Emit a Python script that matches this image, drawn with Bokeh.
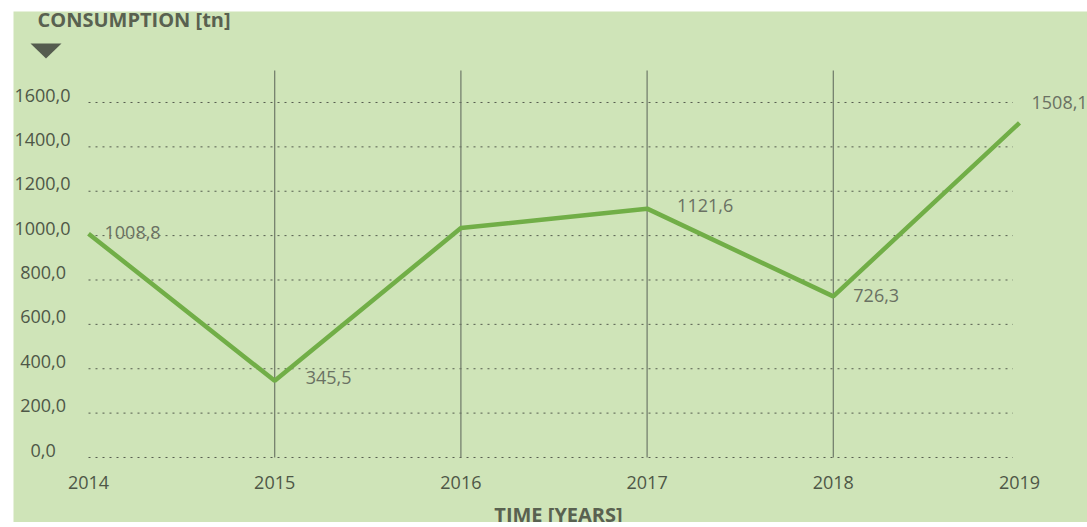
from bokeh.plotting import figure
from bokeh.models import Range1d, FixedTicker, Label, PolyAnnotation, ColumnDataSource
from bokeh.core.properties import value
from bokeh.embed import file_html
from bokeh.resources import INLINE

# ---- data ----
years = [2014, 2015, 2016, 2017, 2018, 2019]
consumption = [1008.8, 345.5, 1034.0, 1121.6, 726.3, 1508.1]
point_labels = ["1008,8", "345,5", "", "1121,6", "726,3", "1508,1"]
y_ticks = [0, 200, 400, 600, 800, 1000, 1200, 1400, 1600]
y_title = "CONSUMPTION [tn]"
x_title = "TIME [YEARS]"

# ---- style ----
PANEL = "#cfe4b8"
OUTER = "#e4f0da"
TEXT = "#4e5747"
TITLE = "#596150"
LABEL = "#6a7163"
LINE = "#71ae47"
FONT = "Open Sans"
label_dx = [16, 31, 0, 30, 20, 12]
label_dy = [-1, -3, 0, -3, -1, -20]
V_TOP = 1744          # top of the vertical year lines
LABEL_RAISE = 36      # tick labels sit slightly above their grid line

XS, XE = 2013.5972, 2019.3652
YS, YE = -292.96, 2010.14

p = figure(width=1074, height=511, output_backend="svg", toolbar_location=None,
           x_range=Range1d(XS, XE), y_range=Range1d(YS, YE),
           min_border_left=0, min_border_right=0, min_border_top=0, min_border_bottom=0)
p.margin = (11, 0, 0, 13)
p.background_fill_color = PANEL
p.border_fill_color = PANEL
p.outline_line_color = None
p.xgrid.visible = False
p.ygrid.visible = False
p.extra_y_ranges = {"lab": Range1d(YS - LABEL_RAISE, YE - LABEL_RAISE)}

# axes drawn inside the plot area
for ax in (p.xaxis[0], p.yaxis[0]):
    ax.axis_line_color = None
    ax.major_tick_line_color = None
    ax.minor_tick_line_color = None
    ax.major_label_text_font = FONT
    ax.major_label_text_font_size = "18px"
    ax.major_label_text_color = TEXT
p.xaxis.ticker = FixedTicker(ticks=years)
p.xaxis.fixed_location = 0
p.xaxis.major_label_standoff = 13

yax = p.yaxis[0]
yax.y_range_name = "lab"
yax.ticker = FixedTicker(ticks=y_ticks)
yax.fixed_location = years[0]
yax.major_label_standoff = 12


def tick_text(t):
    s = f"{t:.1f}".replace(".", ",")
    n = len(s)
    if n == 3:
        return s + "\u2007\u2005"
    if n == 5:
        return s + "\u2005"
    return s


yax.major_label_overrides = {t: tick_text(t) for t in y_ticks}

# dotted horizontal grid between first and last year
grid_end = years[-1] - 0.035
p.segment(x0=[years[0]] * len(y_ticks), x1=[grid_end] * len(y_ticks), y0=y_ticks, y1=y_ticks,
          line_color="#555c4f", line_width=1, line_dash="2 5")

# vertical lines at inner years
inner = years[1:-1]
p.segment(x0=inner, x1=inner, y0=[0] * len(inner), y1=[V_TOP] * len(inner),
          line_color="#6e7868", line_width=1.2)

# data line + labels
src = ColumnDataSource(dict(x=years, y=consumption, t=point_labels, dx=label_dx, dy=label_dy))
p.line("x", "y", source=src, line_color=LINE, line_width=4.5)
p.text("x", "y", text="t", source=src, x_offset="dx", y_offset="dy",
       text_font=value(FONT), text_font_size="18px", text_color=LABEL,
       text_baseline="middle", text_align="left")

# titles
p.add_layout(Label(x=24, y=503.5, x_units="screen", y_units="screen", text=y_title,
                   text_font=FONT, text_font_style="bold", text_font_size="20px",
                   text_color=TITLE, text_baseline="alphabetic", text_align="left"))
p.add_layout(PolyAnnotation(xs=[17, 48, 32.5], ys=[479, 479, 464],
                            xs_units="screen", ys_units="screen",
                            fill_color="#555c4f", fill_alpha=1, line_color=None))
p.add_layout(Label(x=545, y=8, x_units="screen", y_units="screen", text=x_title,
                   text_font=FONT, text_font_style="bold", text_font_size="20px",
                   text_color=TITLE, text_baseline="alphabetic", text_align="center"))

html = file_html(p, INLINE)
html = html.replace("<body>", '<body style="background-color:%s;">' % OUTER, 1)
open("out.html", "w").write(html)
